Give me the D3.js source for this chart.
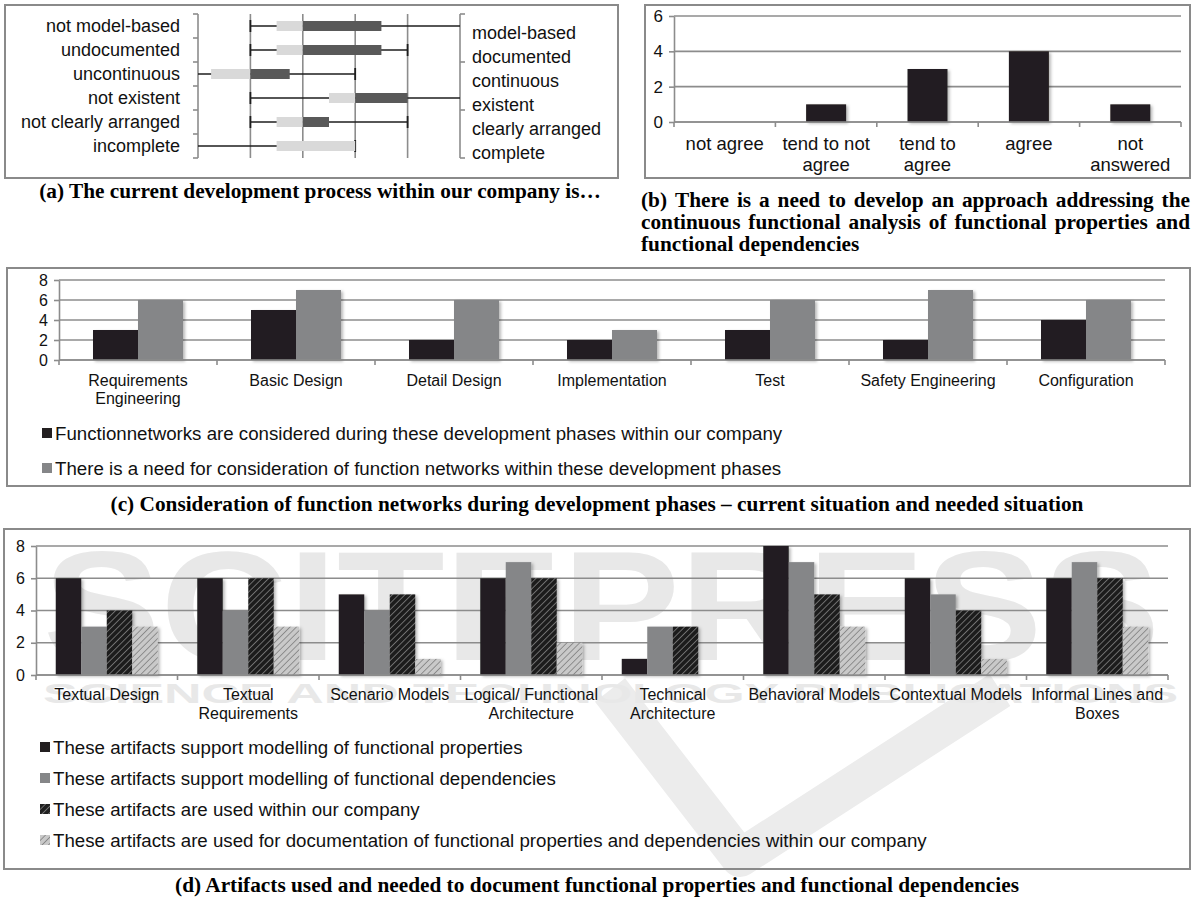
<!DOCTYPE html>
<html>
<head>
<meta charset="utf-8">
<script src="https://cdn.jsdelivr.net/npm/d3@7"></script>
<style>
  html, body { margin: 0; padding: 0; background: #fff; }
  svg { display: block; font-family: "Liberation Sans", Arial, Helvetica, sans-serif; }
</style>
</head>
<body>
<svg id="fig" width="1194" height="897"></svg>
<script>
// ---------- (a) current development process: box plots on a 1..6 scale ----------
const processLeft  = ["not model-based", "undocumented", "uncontinuous", "not existent", "not clearly arranged", "incomplete"];
const processRight = ["model-based", "documented", "continuous", "existent", "clearly arranged", "complete"];
const processMin    = [2, 2, 1, 2, 2, 1];
const processQ1     = [2.5, 2.5, 1.25, 3.5, 2.5, 2.5];
const processMedian = [3, 3, 2, 4, 3, 4];
const processQ3     = [4.5, 4.5, 2.75, 5, 3.5, 4];
const processMax    = [6, 5, 4, 6, 5, 4];
const processScale  = [1, 2, 3, 4, 5, 6];

// ---------- (b) need for an approach ----------
const needCategories = ["not agree", "tend to not agree", "tend to agree", "agree", "not answered"];
const needLabelLines = [["not agree"], ["tend to not", "agree"], ["tend to", "agree"], ["agree"], ["not", "answered"]];
const needCounts = [0, 1, 3, 4, 1];
const needTicks = [0, 2, 4, 6];

// ---------- (c) function networks per development phase ----------
const phases = ["Requirements Engineering", "Basic Design", "Detail Design", "Implementation", "Test", "Safety Engineering", "Configuration"];
const phaseLabelLines = [["Requirements", "Engineering"], ["Basic Design"], ["Detail Design"], ["Implementation"], ["Test"], ["Safety Engineering"], ["Configuration"]];
const phaseConsidered = [3, 5, 2, 2, 3, 2, 4];
const phaseNeeded     = [6, 7, 6, 3, 6, 7, 6];
const phaseSeriesNames = [
  "Functionnetworks are considered during these development phases within our company",
  "There is a need for consideration of function networks within these development phases"
];
const phaseTicks = [0, 2, 4, 6, 8];

// ---------- (d) artifacts ----------
const artifacts = ["Textual Design", "Textual Requirements", "Scenario Models", "Logical/ Functional Architecture",
  "Technical Architecture", "Behavioral Models", "Contextual Models", "Informal Lines and Boxes"];
const artifactLabelLines = [["Textual Design"], ["Textual", "Requirements"], ["Scenario Models"], ["Logical/ Functional", "Architecture"],
  ["Technical", "Architecture"], ["Behavioral Models"], ["Contextual Models"], ["Informal Lines and", "Boxes"]];
const artProperties   = [6, 6, 5, 6, 1, 8, 6, 6];
const artDependencies = [3, 4, 4, 7, 3, 7, 5, 7];
const artUsed         = [4, 6, 5, 6, 3, 5, 4, 6];
const artDocumented   = [3, 3, 1, 2, 0, 3, 1, 3];
const artSeriesNames = [
  "These artifacts support modelling of functional properties",
  "These artifacts support modelling of functional dependencies",
  "These artifacts are used within our company",
  "These artifacts are used for documentation of functional properties and dependencies within our company"
];
const artTicks = [0, 2, 4, 6, 8];

// ---------- captions ----------
const captionA = "(a) The current development process within our company is…";
const captionB = ["(b) There is a need to develop an approach addressing the",
                  "continuous functional analysis of functional properties and",
                  "functional dependencies"];
const captionC = "(c) Consideration of function networks during development phases – current situation and needed situation";
const captionD = "(d) Artifacts used and needed to document functional properties and functional dependencies";

// ====================================================================
const svg = d3.select("#fig");
const SANS = '"Liberation Sans", Arial, Helvetica, sans-serif';
const SERIF = '"Liberation Serif", "Times New Roman", Times, serif';
const GRID = "#8c8c8c";
const INK = "#111";
const BLACK = "#231f20";
const GRAY = "#858688";
const LEGEND_SIZE = 18.7;

const defs = svg.append("defs");
const shadow = defs.append("filter").attr("id", "barShadow")
  .attr("x", "-20%").attr("y", "-20%").attr("width", "150%").attr("height", "150%");
shadow.append("feDropShadow").attr("dx", 2).attr("dy", 1.5).attr("stdDeviation", 1.4)
  .attr("flood-color", "#000").attr("flood-opacity", 0.28);

function hatch(id, bg, fg, w) {
  const p = defs.append("pattern").attr("id", id).attr("patternUnits", "userSpaceOnUse")
    .attr("width", 4.5).attr("height", 4.5).attr("patternTransform", "rotate(45)");
  p.append("rect").attr("width", 4.5).attr("height", 4.5).attr("fill", bg);
  p.append("line").attr("x1", 0).attr("y1", 0).attr("x2", 0).attr("y2", 4.5)
    .attr("stroke", fg).attr("stroke-width", w);
}
hatch("hatchDark", "#1f1f1f", "#8a8a8a", 1.4);
hatch("hatchLight", "#c9c9c9", "#6f6f6f", 1.3);

// faint publisher watermark behind the lower panels
const wm = svg.append("g").attr("fill", "#e8e8e8").attr("font-family", SANS).attr("font-weight", "bold");
wm.append("path").attr("d", "M610,690 L740,858 L1000,690")
  .attr("fill", "none").attr("stroke", "#ececec").attr("stroke-width", 38).attr("stroke-linejoin", "round");
wm.append("text").attr("x", 43).attr("y", 660).attr("font-size", 156)
  .attr("textLength", 1117).attr("lengthAdjust", "spacingAndGlyphs").text("SCITEPRESS");
wm.append("text").attr("x", 43).attr("y", 703).attr("font-size", 28)
  .attr("textLength", 1135).attr("lengthAdjust", "spacingAndGlyphs").text("SCIENCE AND TECHNOLOGY PUBLICATIONS");

function frame(x0, y0, x1, y1) {
  svg.append("rect").attr("x", x0).attr("y", y0).attr("width", x1 - x0).attr("height", y1 - y0)
    .attr("fill", "none").attr("stroke", "#8a8a8a").attr("stroke-width", 2);
}

function valueAxis(g, y, ticks, xLeft, xRight, fontSize) {
  g.append("g").selectAll("line").data(ticks).join("line")
    .attr("x1", xLeft).attr("x2", xRight).attr("y1", d => y(d)).attr("y2", d => y(d))
    .attr("stroke", GRID).attr("stroke-width", 1.6);
  const ax = g.append("g").attr("transform", `translate(${xLeft},0)`)
    .call(d3.axisLeft(y).tickValues(ticks).tickSize(5).tickSizeOuter(0).tickPadding(6).tickFormat(d3.format("d")));
  ax.select(".domain").attr("stroke", GRID).attr("stroke-width", 1.6);
  ax.selectAll(".tick line").attr("stroke", GRID).attr("stroke-width", 1.6);
  ax.selectAll(".tick text").attr("font-size", fontSize).attr("font-family", SANS).attr("fill", INK);
}

function bandAxis(g, x, yBase, labelLines, fontSize, firstY, lineGap) {
  const [r0, r1] = x.range();
  g.append("line").attr("x1", r0).attr("x2", r1).attr("y1", yBase).attr("y2", yBase)
    .attr("stroke", GRID).attr("stroke-width", 1.6);
  const edges = d3.range(x.domain().length + 1).map(i => r0 + i * x.step());
  g.append("g").selectAll("line").data(edges).join("line")
    .attr("x1", d => d).attr("x2", d => d).attr("y1", yBase).attr("y2", yBase + 5)
    .attr("stroke", GRID).attr("stroke-width", 1.6);
  const t = g.append("g").selectAll("text").data(x.domain()).join("text")
    .attr("text-anchor", "middle").attr("font-size", fontSize).attr("fill", INK);
  t.each(function (d, i) {
    d3.select(this).selectAll("tspan").data(labelLines[i]).join("tspan")
      .attr("x", x(d) + x.bandwidth() / 2).attr("y", (s, j) => firstY + j * lineGap)
      .attr("dy", "0.35em").text(s => s);
  });
}

function legend(g, names, fills, x, y0, gap, fontSize) {
  const item = g.selectAll("g").data(names).join("g")
    .attr("transform", (d, i) => `translate(${x},${y0 + i * gap})`);
  item.append("rect").attr("x", 0).attr("y", -5).attr("width", 10).attr("height", 10)
    .attr("fill", (d, i) => fills[i]);
  item.append("text").attr("x", 13).attr("dy", "0.35em").attr("font-size", fontSize)
    .attr("fill", INK).text(d => d);
}

// ---------------- panel (a) ----------------
frame(5, 5, 618, 178);
{
  const g = svg.append("g");
  const x = d3.scaleLinear().domain([1, 6]).range([198, 460]);
  const y = d3.scaleBand().domain(processLeft).range([14, 158]);
  const yR = d3.scalePoint().domain(processRight).range([33, 153]);
  const [top, bottom] = y.range();
  const rows = processLeft.map((name, i) => ({
    name, min: processMin[i], q1: processQ1[i], med: processMedian[i], q3: processQ3[i], max: processMax[i]
  }));

  // inner gridlines
  g.append("g").selectAll("line").data(processScale.slice(1, -1)).join("line")
    .attr("x1", d => x(d)).attr("x2", d => x(d)).attr("y1", top).attr("y2", bottom)
    .attr("stroke", GRID).attr("stroke-width", 1.6);

  // left bracket axis
  g.append("line").attr("x1", x(1)).attr("x2", x(1)).attr("y1", top).attr("y2", bottom)
    .attr("stroke", GRID).attr("stroke-width", 1.6);
  g.append("g").selectAll("line").data(d3.range(processLeft.length + 1).map(i => top + i * y.step())).join("line")
    .attr("x1", x(1) - 5).attr("x2", x(1)).attr("y1", d => d).attr("y2", d => d)
    .attr("stroke", GRID).attr("stroke-width", 1.6);
  // right bracket axis
  g.append("line").attr("x1", x(6)).attr("x2", x(6)).attr("y1", top).attr("y2", bottom)
    .attr("stroke", GRID).attr("stroke-width", 1.6);
  g.append("g").selectAll("line").data(d3.range(4).map(i => top + i * (bottom - top) / 3)).join("line")
    .attr("x1", x(6)).attr("x2", x(6) + 5).attr("y1", d => d).attr("y2", d => d)
    .attr("stroke", GRID).attr("stroke-width", 1.6);

  const cy = d => y(d.name) + y.bandwidth() / 2;
  // whiskers
  g.append("g").selectAll("line").data(rows).join("line")
    .attr("x1", d => x(d.min)).attr("x2", d => x(d.max)).attr("y1", cy).attr("y2", cy)
    .attr("stroke", "#1e1e1e").attr("stroke-width", 1.6);
  const caps = [];
  rows.forEach(d => {
    if (d.min > 1) caps.push({ v: d.min, row: d });
    if (d.max < 6) caps.push({ v: d.max, row: d });
  });
  g.append("g").selectAll("line").data(caps).join("line")
    .attr("x1", d => x(d.v)).attr("x2", d => x(d.v))
    .attr("y1", d => cy(d.row) - 6).attr("y2", d => cy(d.row) + 6)
    .attr("stroke", "#1e1e1e").attr("stroke-width", 1.8);
  // lower half box (q1 -> median) and upper half box (median -> q3)
  g.append("g").selectAll("rect").data(rows).join("rect")
    .attr("x", d => x(d.q1)).attr("width", d => x(d.med) - x(d.q1))
    .attr("y", d => cy(d) - 5).attr("height", 10).attr("fill", "#d9d9d9");
  g.append("g").selectAll("rect").data(rows.filter(d => d.q3 > d.med)).join("rect")
    .attr("x", d => x(d.med)).attr("width", d => x(d.q3) - x(d.med))
    .attr("y", d => cy(d) - 5).attr("height", 10).attr("fill", "#595959");

  g.append("g").selectAll("text").data(processLeft).join("text")
    .attr("x", x(1) - 18).attr("y", d => y(d) + y.bandwidth() / 2).attr("dy", "0.35em")
    .attr("text-anchor", "end").attr("font-size", 18).attr("fill", INK).text(d => d);
  g.append("g").selectAll("text").data(processRight).join("text")
    .attr("x", x(6) + 12).attr("y", d => yR(d)).attr("dy", "0.35em")
    .attr("font-size", 18).attr("fill", INK).text(d => d);
}

// ---------------- panel (b) ----------------
frame(645, 5, 1190, 178);
{
  const g = svg.append("g");
  const x = d3.scaleBand().domain(needCategories).range([674, 1181]);
  const y = d3.scaleLinear().domain([0, 6]).range([122, 16]);
  valueAxis(g, y, needTicks, 674, 1181, 17);
  const bw = 40;
  g.append("g").attr("filter", "url(#barShadow)").selectAll("rect").data(needCategories).join("rect")
    .attr("x", d => x(d) + (x.bandwidth() - bw) / 2).attr("width", bw)
    .attr("y", (d, i) => y(needCounts[i])).attr("height", (d, i) => y(0) - y(needCounts[i]))
    .attr("fill", BLACK);
  bandAxis(g, x, y(0), needLabelLines, 18.5, 144, 21);
}

// ---------------- panel (c) ----------------
frame(7, 268, 1190, 486);
{
  const g = svg.append("g");
  const x = d3.scaleBand().domain(phases).range([59, 1165]);
  const y = d3.scaleLinear().domain([0, 8]).range([360, 280]);
  valueAxis(g, y, phaseTicks, 59, 1165, 16);
  const series = [phaseConsidered, phaseNeeded];
  const fills = [BLACK, GRAY];
  const xs = d3.scaleBand().domain(d3.range(series.length)).range([0, 90]);
  const off = (x.bandwidth() - 90) / 2;
  const bars = g.append("g").attr("filter", "url(#barShadow)");
  series.forEach((vals, s) => {
    bars.append("g").selectAll("rect").data(phases).join("rect")
      .attr("x", d => x(d) + off + xs(s)).attr("width", xs.bandwidth())
      .attr("y", (d, i) => y(vals[i])).attr("height", (d, i) => y(0) - y(vals[i]))
      .attr("fill", fills[s]);
  });
  bandAxis(g, x, y(0), phaseLabelLines, 16, 380, 18);
  legend(g.append("g"), phaseSeriesNames, fills, 42, 433, 35, LEGEND_SIZE);
}

// ---------------- panel (d) ----------------
frame(4, 529, 1190, 869);
{
  const g = svg.append("g");
  const x = d3.scaleBand().domain(artifacts).range([36, 1168]);
  const y = d3.scaleLinear().domain([0, 8]).range([675, 546]);
  valueAxis(g, y, artTicks, 36, 1168, 16);
  const series = [artProperties, artDependencies, artUsed, artDocumented];
  const fills = [BLACK, GRAY, "url(#hatchDark)", "url(#hatchLight)"];
  const groupW = 102;
  const xs = d3.scaleBand().domain(d3.range(series.length)).range([0, groupW]);
  const off = (x.bandwidth() - groupW) / 2;
  const bars = g.append("g").attr("filter", "url(#barShadow)");
  series.forEach((vals, s) => {
    bars.append("g").selectAll("rect").data(artifacts.filter((d, i) => vals[i] > 0)).join("rect")
      .attr("x", d => x(d) + off + xs(s)).attr("width", xs.bandwidth())
      .attr("y", d => y(vals[artifacts.indexOf(d)]))
      .attr("height", d => y(0) - y(vals[artifacts.indexOf(d)]))
      .attr("fill", fills[s]);
  });
  bandAxis(g, x, y(0), artifactLabelLines, 16, 694, 19);
  legend(g.append("g"), artSeriesNames, fills, 40, 747, 31, LEGEND_SIZE);
}

// ---------------- captions ----------------
const cap = svg.append("g").attr("font-family", SERIF).attr("font-weight", "bold")
  .attr("font-size", 21.3).attr("fill", "#000");

cap.append("text").attr("x", 320).attr("y", 198)
  .attr("text-anchor", "middle").text(captionA);

// justified caption block for (b)
function justified(text, x0, x1, y, stretch) {
  const t = cap.append("text").attr("y", y);
  if (!stretch) { t.attr("x", x0).text(text); return; }
  const words = text.split(" ");
  const widths = words.map(w => {
    const probe = t.append("tspan").text(w);
    const wl = probe.node().getComputedTextLength();
    probe.remove();
    return wl;
  });
  const gap = (x1 - x0 - d3.sum(widths)) / (words.length - 1);
  let cx = x0;
  words.forEach((w, i) => {
    t.append("tspan").attr("x", cx).text(w);
    cx += widths[i] + gap;
  });
}
captionB.forEach((line, i) => justified(line, 641, 1190, 207 + i * 22, i < captionB.length - 1));

cap.append("text").attr("x", 597).attr("y", 511)
  .attr("text-anchor", "middle").text(captionC);
cap.append("text").attr("x", 597).attr("y", 892)
  .attr("text-anchor", "middle").text(captionD);
</script>
</body>
</html>
